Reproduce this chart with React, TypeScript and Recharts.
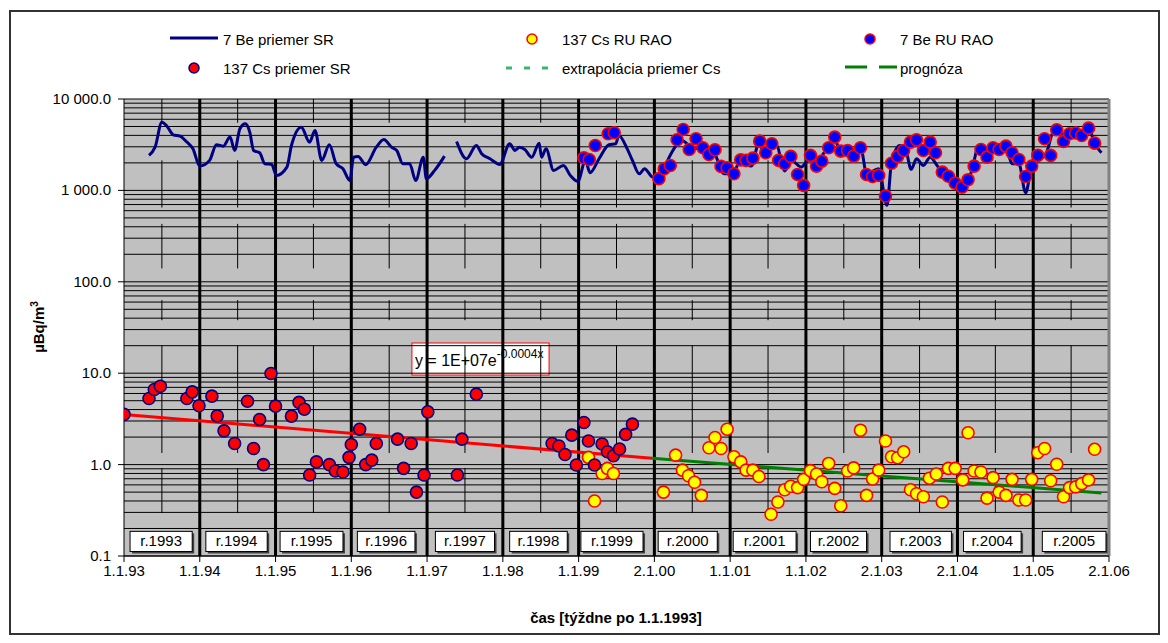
import React from 'react';
import { ComposedChart, Line, Scatter, XAxis, YAxis, ReferenceLine, ReferenceArea } from 'recharts';

const FONT = "'Liberation Sans', Arial, Helvetica, sans-serif";

// ---- axes ----
const xTickValues = [1993, 1994, 1995, 1996, 1997, 1998, 1999, 2000, 2001, 2002, 2003, 2004, 2005, 2006];
const xTickLabels = ['1.1.93', '1.1.94', '1.1.95', '1.1.96', '1.1.97', '1.1.98', '1.1.99', '2.1.00', '1.1.01', '1.1.02', '2.1.03', '2.1.04', '1.1.05', '2.1.06'];
const yTickValues = [0.1, 1, 10, 100, 1000, 10000];
const yTickLabels = ['0.1', '1.0', '10.0', '100.0', '1 000.0', '10 000.0'];
const yearLines = [1994, 1995, 1996, 1997, 1998, 1999, 2000, 2001, 2002, 2003, 2004, 2005];
const midYears = [1993.5, 1994.5, 1995.5, 1996.5, 1997.5, 1998.5, 1999.5, 2000.5, 2001.5, 2002.5, 2003.5, 2004.5, 2005.5];
const midSegments = [[10000, 5500], [2130, 650], [430, 140], [63, 38], [20.2, 1.34], [0.92, 0.295]];
const minorMultipliers = [2, 3, 4, 5, 6, 7, 8, 9];

// ---- year boxes ----
const yearBoxLabels = ['r.1993', 'r.1994', 'r.1995', 'r.1996', 'r.1997', 'r.1998', 'r.1999', 'r.2000', 'r.2001', 'r.2002', 'r.2003', 'r.2004', 'r.2005'];
const yearBoxStart = [1993.08, 1994.08, 1995.06, 1996.08, 1997.11, 1998.09, 1999.03, 2000.05, 2001.04, 2002.06, 2003.11, 2004.08, 2005.12];
const yearBoxEnd = [1993.90, 1994.89, 1995.89, 1996.84, 1997.89, 1998.85, 1999.85, 2000.83, 2001.87, 2002.80, 2003.92, 2004.84, 2005.96];
const yearBoxLow = 0.112;
const yearBoxHigh = 0.186;

// ---- 7Be average SR (line) ----
const beSR: [number, number | null][] = [
  [1993.33, 2415], [1993.41, 2970], [1993.50, 5570], [1993.56, 5130], [1993.65, 4060], [1993.74, 3930], [1993.83, 3380], [1993.91, 2860],
  [1994.00, 1845], [1994.13, 2130], [1994.22, 3160], [1994.31, 3050], [1994.40, 3830], [1994.46, 2735], [1994.53, 4720], [1994.60, 5360],
  [1994.66, 4340], [1994.71, 2735], [1994.79, 2580], [1994.86, 1960], [1994.95, 1925], [1995.01, 1460], [1995.15, 1800], [1995.21, 3100],
  [1995.34, 4920], [1995.45, 3370], [1995.52, 4530], [1995.61, 2130], [1995.71, 3160], [1995.80, 1960], [1995.89, 1725], [1995.98, 1285],
  [1996.03, 2310], [1996.09, 2355], [1996.19, 1910], [1996.33, 2970], [1996.43, 3600], [1996.53, 2970], [1996.60, 2735], [1996.68, 1960],
  [1996.77, 1960], [1996.85, 1285], [1996.95, 2310], [1996.99, 1345], [1997.10, 1655], [1997.23, 2370], [1997.31, null],
  [1997.39, 3435], [1997.52, 2220], [1997.65, 3100], [1997.72, 2520], [1997.83, 2220], [1997.96, 1925], [1998.09, 3240], [1998.16, 2735],
  [1998.22, 2970], [1998.29, 2805], [1998.38, 2310], [1998.48, 3290], [1998.51, 2310], [1998.57, 2860], [1998.67, 1655], [1998.80, 1875],
  [1998.89, 1460], [1998.99, 1255], [1999.09, 2130], [1999.15, 1560], [1999.27, 2220], [1999.40, 3160], [1999.49, 3240], [1999.53, 3990],
  [1999.64, 2860], [1999.71, 2130], [1999.80, 1520], [1999.87, 1725], [1999.98, 1397], [2000.13, 1800], [2000.22, 2520], [2000.36, 3520],
  [2000.49, 2970], [2000.63, 2800], [2000.79, 2520], [2000.92, 1520], [2001.03, 1520], [2001.14, 2130], [2001.28, 1845], [2001.37, 3100],
  [2001.47, 2700], [2001.61, 3100], [2001.72, 1635], [2001.81, 2130], [2001.94, 1800], [2002.05, 2220], [2002.14, 1700], [2002.23, 2520],
  [2002.29, 2805], [2002.37, 3670], [2002.45, 2805], [2002.56, 2735], [2002.65, 2520], [2002.73, 2735], [2002.80, 1520], [2002.96, 1725],
  [2003.07, 686], [2003.13, 2040], [2003.24, 3100], [2003.31, 2900], [2003.39, 1700], [2003.46, 2220], [2003.55, 1875], [2003.64, 2310],
  [2003.73, 1875], [2003.84, 1397], [2003.97, 1183], [2004.08, 1135], [2004.19, 1655], [2004.27, 2860], [2004.37, 2600], [2004.48, 2900],
  [2004.63, 3100], [2004.72, 1960], [2004.81, 1960], [2004.90, 944], [2004.98, 1800], [2005.07, 2130], [2005.17, 2520], [2005.27, 4340],
  [2005.40, 4130], [2005.51, 4200], [2005.65, 3670], [2005.74, 4720], [2005.80, 3400], [2005.90, 2580],
];

// ---- 137Cs average SR (dots) ----
const csSR: [number, number][] = [
  [1993.00, 3.54], [1993.33, 5.29], [1993.40, 6.63], [1993.48, 7.21], [1993.83, 5.29], [1993.90, 6.25], [1993.99, 4.40], [1994.16, 5.61],
  [1994.23, 3.41], [1994.32, 2.34], [1994.46, 1.70], [1994.63, 4.94], [1994.71, 1.50], [1994.79, 3.12], [1994.84, 1.00], [1994.94, 9.93],
  [1995.00, 4.36], [1995.21, 3.39], [1995.31, 4.79], [1995.38, 4.04], [1995.45, 0.77], [1995.54, 1.07], [1995.71, 1.00], [1995.79, 0.85],
  [1995.89, 0.83], [1995.97, 1.20], [1996.00, 1.66], [1996.11, 2.44], [1996.19, 1.00], [1996.27, 1.12], [1996.33, 1.70], [1996.61, 1.90],
  [1996.69, 0.91], [1996.79, 1.70], [1996.86, 0.50], [1996.96, 0.77], [1997.01, 3.78], [1997.40, 0.77], [1997.46, 1.90], [1997.65, 5.90],
  [1998.65, 1.70], [1998.74, 1.60], [1998.82, 1.29], [1998.91, 2.10], [1998.97, 0.99], [1999.07, 2.89], [1999.13, 1.81], [1999.21, 0.99],
  [1999.31, 1.68], [1999.38, 1.38], [1999.46, 1.25], [1999.54, 1.48], [1999.62, 2.14], [1999.71, 2.77],
];

// ---- 137Cs RU RAO (dots) ----
const csRAO: [number, number][] = [
  [1999.13, 1.20], [1999.21, 0.40], [1999.31, 0.80], [1999.38, 0.91], [1999.46, 0.80], [2000.12, 0.50], [2000.28, 1.27], [2000.37, 0.87],
  [2000.45, 0.755], [2000.53, 0.64], [2000.62, 0.46], [2000.72, 1.53], [2000.80, 1.98], [2000.88, 1.50], [2000.96, 2.44], [2001.05, 1.22],
  [2001.14, 1.07], [2001.21, 0.87], [2001.30, 0.87], [2001.38, 0.74], [2001.54, 0.286], [2001.63, 0.39], [2001.72, 0.53], [2001.80, 0.58],
  [2001.89, 0.56], [2001.97, 0.69], [2002.06, 0.86], [2002.14, 0.79], [2002.21, 0.65], [2002.30, 1.03], [2002.38, 0.55], [2002.46, 0.355],
  [2002.55, 0.85], [2002.63, 0.92], [2002.72, 2.38], [2002.80, 0.46], [2002.88, 0.695], [2002.96, 0.87], [2003.05, 1.81], [2003.13, 1.22],
  [2003.21, 1.19], [2003.29, 1.38], [2003.38, 0.53], [2003.46, 0.48], [2003.55, 0.445], [2003.63, 0.71], [2003.72, 0.79], [2003.80, 0.39],
  [2003.88, 0.91], [2003.97, 0.91], [2004.07, 0.68], [2004.14, 2.23], [2004.22, 0.85], [2004.31, 0.83], [2004.39, 0.43], [2004.47, 0.72],
  [2004.55, 0.50], [2004.64, 0.46], [2004.72, 0.69], [2004.81, 0.41], [2004.90, 0.41], [2004.98, 0.69], [2005.06, 1.35], [2005.15, 1.50],
  [2005.23, 0.665], [2005.31, 1.01], [2005.40, 0.445], [2005.48, 0.56], [2005.56, 0.57], [2005.64, 0.62], [2005.73, 0.68], [2005.81, 1.47],
];

// ---- 7Be RU RAO (dots) ----
const beRAO: [number, number][] = [
  [1999.07, 2275], [1999.14, 2180], [1999.22, 3100], [1999.39, 4170], [1999.47, 4270], [2000.06, 1345], [2000.13, 1725], [2000.21, 1875],
  [2000.30, 3585], [2000.38, 4645], [2000.46, 2805], [2000.55, 3670], [2000.64, 2930], [2000.72, 2470], [2000.80, 2785], [2000.88, 1830],
  [2000.96, 1770], [2001.05, 1520], [2001.14, 2160], [2001.21, 2130], [2001.30, 2255], [2001.39, 3460], [2001.47, 2580], [2001.55, 3240],
  [2001.64, 2130], [2001.72, 1960], [2001.80, 2355], [2001.89, 1495], [2001.97, 1135], [2002.06, 2415], [2002.14, 1845], [2002.21, 2090],
  [2002.30, 2930], [2002.38, 3830], [2002.46, 2690], [2002.55, 2735], [2002.63, 2370], [2002.72, 2930], [2002.80, 1495], [2002.88, 1420],
  [2002.96, 1460], [2003.05, 867], [2003.13, 1985], [2003.21, 2355], [2003.29, 2735], [2003.38, 3375], [2003.46, 3585], [2003.55, 2735],
  [2003.64, 3375], [2003.71, 2580], [2003.80, 1585], [2003.88, 1430], [2003.97, 1200], [2004.06, 1085], [2004.14, 1310], [2004.22, 1845],
  [2004.31, 2805], [2004.39, 2310], [2004.47, 2930], [2004.55, 2805], [2004.64, 3050], [2004.72, 2580], [2004.81, 2180], [2004.90, 1420],
  [2004.98, 1845], [2005.06, 2415], [2005.15, 3670], [2005.23, 2415], [2005.31, 4600], [2005.40, 3435], [2005.48, 4170], [2005.56, 4240],
  [2005.64, 3990], [2005.73, 4800], [2005.81, 3290],
];

// ---- trend lines ----
const trendSR: [number, number][] = [[1993.0, 3.54], [1999.97, 1.17]];
const trendForecast: [number, number][] = [[1999.97, 1.17], [2005.9, 0.49]];
const equationMain = 'y = 1E+07e';
const equationExp = '-0.0004x';
const equationBox = { x1: 1996.80, x2: 1998.61, y1: 9.55, y2: 21.4 };

const toPts = (arr: [number, number | null][]) => arr.map(([x, y]) => ({ x, y }));

const gridValues: number[] = [];
[0.1, 1, 10, 100, 1000].forEach((d) => {
  gridValues.push(d);
  minorMultipliers.forEach((m) => gridValues.push(+(d * m).toPrecision(3)));
});
gridValues.push(10000);

const dotShape = (fill: string, stroke: string) => (p: any) => (
  <circle cx={p.cx} cy={p.cy} r={6} fill={fill} stroke={stroke} strokeWidth={1.6} />
);

const YearBox = (label: string) => (p: any) => {
  const { x, y, width, height } = p;
  return (
    <g>
      <rect x={x + 2} y={y + 2} width={width} height={height} fill="#404040" />
      <rect x={x} y={y} width={width} height={height} fill="#ffffff" stroke="#000" strokeWidth={1} />
      <text x={x + width / 2} y={y + height / 2 + 5} textAnchor="middle" fontSize={15} fontFamily={FONT} fill="#000">{label}</text>
    </g>
  );
};

const EquationShape = (p: any) => {
  const { x, y, width, height } = p;
  return (
    <g>
      <rect x={x} y={y} width={width} height={height} fill="#ffffff" stroke="#ff0000" strokeWidth={1} />
      <text x={x + 3} y={y + 23} fontSize={16} fontFamily={FONT} fill="#000">
        {equationMain}
        <tspan fontSize={12} dy={-8}>{equationExp}</tspan>
      </text>
    </g>
  );
};

const LegendAndTitles = () => (
  <g fontFamily={FONT} fontSize={15} fill="#000">
    {/* row 1 */}
    <line x1={170} y1={38} x2={218} y2={38} stroke="#000080" strokeWidth={3} />
    <text x={223} y={45}>7 Be priemer SR</text>
    <circle cx={532} cy={39} r={5} fill="#FFFF00" stroke="#FF0000" strokeWidth={1.5} />
    <text x={562} y={45}>137 Cs RU RAO</text>
    <circle cx={870} cy={39} r={5} fill="#0000FF" stroke="#FF0000" strokeWidth={1.5} />
    <text x={900} y={45}>7 Be RU RAO</text>
    {/* row 2 */}
    <circle cx={194} cy={68} r={5} fill="#FF0000" stroke="#000080" strokeWidth={1.5} />
    <text x={223} y={74}>137 Cs priemer SR</text>
    <line x1={506} y1={68} x2={550} y2={68} stroke="#3CB371" strokeWidth={3} strokeDasharray="6 12" />
    <text x={562} y={74}>extrapolácia priemer Cs</text>
    <line x1={845} y1={67} x2={897} y2={67} stroke="#008000" strokeWidth={3} strokeDasharray="22 12" />
    <text x={900} y={74}>prognóza</text>
    {/* axis titles */}
    <text x={616} y={623} textAnchor="middle" fontWeight="bold" fontSize={15}>čas [týždne po 1.1.1993]</text>
    <text transform="translate(44,327) rotate(-90)" textAnchor="middle" fontWeight="bold" fontSize={15}>
      µBq/m<tspan fontSize={10} dy={-6}>3</tspan>
    </text>
  </g>
);

const XTick = (p: any) => {
  const idx = xTickValues.indexOf(p.payload.value);
  return (
    <text x={p.x} y={p.y + 12} textAnchor="middle" fontSize={15} fontFamily={FONT} fill="#000">{xTickLabels[idx]}</text>
  );
};

const YTick = (p: any) => {
  const idx = yTickValues.findIndex((v) => Math.abs(v - p.payload.value) < 1e-9);
  return (
    <text x={111} y={p.y + 5} textAnchor="end" fontSize={15} fontFamily={FONT} fill="#000">{yTickLabels[idx]}</text>
  );
};

export default function App() {
  return (
    <div style={{ position: 'absolute', left: 0, top: 0, width: 1168, height: 643, background: '#fff' }}>
      <ComposedChart width={1168} height={643} margin={{ top: 99, right: 59, bottom: 57, left: 64 }}>
        <XAxis
          dataKey="x"
          type="number"
          domain={[1993, 2006]}
          ticks={xTickValues}
          allowDataOverflow
          tick={<XTick />}
          tickSize={6}
          axisLine={{ stroke: '#000', strokeWidth: 1 }}
          tickLine={{ stroke: '#000' }}
          height={30}
        />
        <YAxis
          dataKey="y"
          type="number"
          scale="log"
          domain={[0.1, 10000]}
          ticks={yTickValues}
          allowDataOverflow
          tick={<YTick />}
          tickSize={6}
          axisLine={{ stroke: '#000', strokeWidth: 1 }}
          tickLine={{ stroke: '#000' }}
          width={60}
        />
        <ReferenceArea x1={1993} x2={2006} y1={0.1} y2={10000} fill="#C0C0C0" fillOpacity={1} stroke="none" />
        {gridValues.map((v) => (
          <ReferenceLine key={'g' + v} y={v} stroke="#000" strokeWidth={1} />
        ))}
        {midYears.map((m) =>
          midSegments.map((s, i) => (
            <ReferenceLine key={'m' + m + '-' + i} segment={[{ x: m, y: s[0] }, { x: m, y: s[1] }]} stroke="#000" strokeWidth={1} />
          ))
        )}
        {yearLines.map((yr) => (
          <ReferenceLine key={'y' + yr} x={yr} stroke="#000" strokeWidth={3} />
        ))}
        <ReferenceLine x={2006} stroke="#808080" strokeWidth={3} />
        {yearBoxLabels.map((lb, i) => (
          <ReferenceArea key={lb} x1={yearBoxStart[i]} x2={yearBoxEnd[i]} y1={yearBoxLow} y2={yearBoxHigh} shape={YearBox(lb)} />
        ))}
        <ReferenceArea x1={equationBox.x1} x2={equationBox.x2} y1={equationBox.y1} y2={equationBox.y2} shape={EquationShape} />
        <Line data={toPts(trendSR)} dataKey="y" type="linear" stroke="#FF0000" strokeWidth={3} dot={false} isAnimationActive={false} />
        <Line data={toPts(trendForecast)} dataKey="y" type="linear" stroke="#008000" strokeWidth={3} dot={false} isAnimationActive={false} />
        <Line data={toPts(beSR)} dataKey="y" type="monotone" stroke="#000080" strokeWidth={3} dot={false} connectNulls={false} isAnimationActive={false} />
        <Scatter data={toPts(csRAO)} dataKey="y" shape={dotShape('#FFFF00', '#FF0000')} isAnimationActive={false} />
        <Scatter data={toPts(beRAO)} dataKey="y" shape={dotShape('#0000FF', '#FF0000')} isAnimationActive={false} />
        <Scatter data={toPts(csSR)} dataKey="y" shape={dotShape('#FF0000', '#000080')} isAnimationActive={false} />
        <LegendAndTitles />
      </ComposedChart>
      <div style={{ position: 'absolute', left: 9, top: 10, width: 1151, height: 625, border: '2px solid #333', boxSizing: 'border-box', pointerEvents: 'none' }} />
    </div>
  );
}
